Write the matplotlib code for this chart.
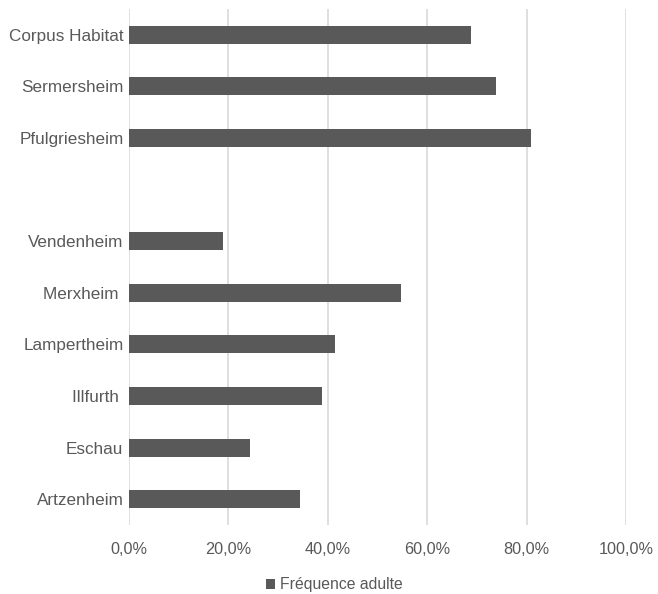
import matplotlib.pyplot as plt
from matplotlib.ticker import FuncFormatter

plt.rcParams['font.family'] = ['Liberation Sans', 'DejaVu Sans']

# categories from top to bottom ("" is the empty slot)
sites = ["Corpus Habitat", "Sermersheim", "Pfulgriesheim", "",
         "Vendenheim", "Merxheim ", "Lampertheim", "Illfurth ", "Eschau", "Artzenheim"]
freq = [0.689, 0.739, 0.809, 0.0,
        0.190, 0.547, 0.415, 0.388, 0.244, 0.344]
xticks = [0.0, 0.2, 0.4, 0.6, 0.8, 1.0]

BAR = '#595959'
TXT = '#595959'
GRID = '#d9d9d9'

fig = plt.figure(figsize=(6.58, 5.94), dpi=100)
ax = fig.add_axes([129 / 658, 1 - 525 / 594, (626 - 129) / 658, (525 - 9) / 594])

pos = list(range(len(sites)))[::-1]
vals = [v if s else 0 for s, v in zip(sites, freq)]
ax.barh(pos, vals, height=0.35, color=BAR, label="Fréquence adulte", zorder=3)

ax.set_yticks(pos)
ax.set_yticklabels(sites)
ax.set_ylim(-0.5, len(sites) - 0.5)
ax.set_xlim(0, 1.0)
ax.set_xticks(xticks)
ax.xaxis.set_major_formatter(FuncFormatter(lambda v, _: f"{v * 100:.1f}%".replace('.', ',')))

ax.grid(axis='x', color=GRID, linewidth=1.2, zorder=0)
for s in ax.spines.values():
    s.set_visible(False)
ax.tick_params(axis='both', length=0, colors=TXT)
ax.tick_params(axis='y', pad=4, labelsize=12.3)
ax.tick_params(axis='x', pad=12, labelsize=11.7)

leg = fig.legend(loc='center', bbox_to_anchor=(0.508, 1 - 585 / 594), frameon=False,
                 fontsize=11.3, handlelength=0.6, handleheight=0.6, handletextpad=0.3)
for t in leg.get_texts():
    t.set_color(TXT)

fig.savefig("out.png", dpi=100)
